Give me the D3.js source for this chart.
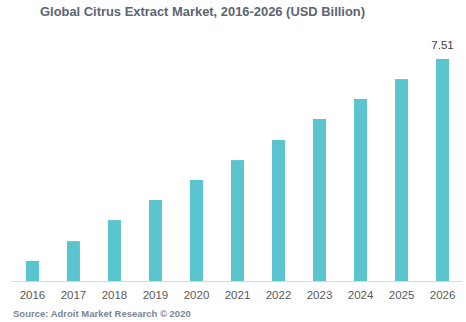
<!DOCTYPE html>
<html><head><meta charset="utf-8">
<script src="https://cdn.jsdelivr.net/npm/d3@7"></script>
<style>body{margin:0;background:#fff}svg{display:block}</style>
</head><body>
<svg id="c" width="466" height="322"></svg>
<script>
const years = ["2016","2017","2018","2019","2020","2021","2022","2023","2024","2025","2026"];
const values = [0.68,1.35,2.06,2.74,3.42,4.09,4.77,5.48,6.16,6.83,7.51];
const title = "Global Citrus Extract Market, 2016-2026 (USD Billion)";
const source = "Source: Adroit Market Research © 2020";

const svg = d3.select("#c");
const x = d3.scaleBand().domain(years).range([12,463]).paddingInner(0.683).paddingOuter(0.34);
const y = d3.scaleLinear().domain([0,7.51]).range([281,59]);

svg.append("text").attr("x",202.5).attr("y",16).attr("text-anchor","middle")
  .attr("font-family","Liberation Sans, Arial, sans-serif").attr("font-weight","bold")
  .attr("font-size",13.5).attr("textLength",325).attr("lengthAdjust","spacingAndGlyphs")
  .attr("fill","#5b6573").text(title);

svg.selectAll("rect.bar").data(values).enter().append("rect").attr("class","bar")
  .attr("x",(d,i)=>x(years[i])).attr("width",x.bandwidth())
  .attr("y",d=>y(d)).attr("height",d=>y(0)-y(d)).attr("fill","#5bc5cf");

const ax = svg.append("g").attr("transform","translate(0,281)")
  .call(d3.axisBottom(x).tickSize(0).tickPadding(10));
ax.select(".domain").attr("stroke","#d9d9d9").attr("d","M11,0.5H462");
ax.selectAll("text").attr("font-family","Liberation Sans, Arial, sans-serif")
  .attr("font-size",11.5).attr("fill","#595959");

svg.append("text").attr("x",x(years[10])+x.bandwidth()/2).attr("y",y(values[10])-10)
  .attr("text-anchor","middle").attr("font-family","Liberation Sans, Arial, sans-serif")
  .attr("font-size",11.5).attr("fill","#404040").text(values[10].toFixed(2));

svg.append("text").attr("x",13).attr("y",317)
  .attr("font-family","Liberation Sans, Arial, sans-serif").attr("font-weight","bold")
  .attr("font-size",9.5).attr("fill","#7b8694").text(source);
</script>
</body></html>
